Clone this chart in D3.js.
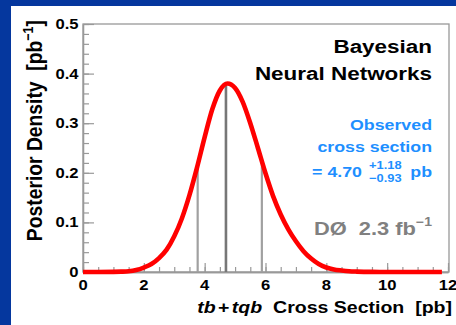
<!DOCTYPE html>
<html>
<head>
<meta charset="utf-8">
<script src="https://cdn.jsdelivr.net/npm/d3@7/dist/d3.min.js"></script>
<style>
  html, body { margin: 0; padding: 0; background: #05379e; }
  svg { display: block; }
  text { font-family: "Liberation Sans", Arial, Helvetica, sans-serif; font-weight: bold; }
</style>
</head>
<body>
<svg id="chart" width="456" height="325"></svg>
<script>
// Posterior density of the single top (tb + tqb) cross section
const crossSection = [0, 0.5, 1.0, 1.25, 1.5, 1.75, 2.0, 2.25, 2.5, 2.75, 3.0, 3.25, 3.5, 3.75,
  4.0, 4.25, 4.5, 4.75, 5.0, 5.25, 5.5, 5.75, 6.0, 6.25, 6.5, 6.75, 7.0, 7.25, 7.5, 7.75,
  8.0, 8.25, 8.5, 8.75, 9.0, 9.5, 10.0, 10.5, 11.0, 11.5, 11.8];
const posterior = [0, 0, 0.0003, 0.0007, 0.0015, 0.004, 0.009, 0.016, 0.028, 0.045, 0.072, 0.108, 0.155, 0.211,
  0.272, 0.328, 0.366, 0.380, 0.371, 0.343, 0.300, 0.250, 0.199, 0.153, 0.116, 0.086, 0.062, 0.042, 0.027, 0.016,
  0.009, 0.005, 0.003, 0.0015, 0.0008, 0.0002, 0.0001, 0, 0, 0, 0];

// Measured value and its asymmetric uncertainty
const measured = 4.70;
const errUp = 1.18;
const errDown = 0.93;

const xTickValues = [0, 2, 4, 6, 8, 10, 12];
const yTickValues = [0, 0.1, 0.2, 0.3, 0.4, 0.5];

const SX = 1.17; // horizontal text stretch

const svg = d3.select("#chart");
const W = 456, H = 325;

// white canvas
svg.append("rect").attr("x", 11).attr("y", 6).attr("width", W - 11).attr("height", H - 6).attr("fill", "#fff");

const plotL = 83, plotR = 448, plotT = 24, plotB = 272;
const x = d3.scaleLinear().domain([0, 12]).range([plotL, plotR]);
const y = d3.scaleLinear().domain([0, 0.5]).range([plotB, plotT]);

const axisColor = "#999";

// frame
svg.append("rect").attr("x", plotL).attr("y", plotT).attr("width", plotR + 1 - plotL).attr("height", plotB - plotT)
  .attr("fill", "none").attr("stroke", axisColor).attr("stroke-width", 1.3);

function styleAxis(g) {
  g.select(".domain").attr("stroke", axisColor).attr("stroke-width", 1.3);
  g.selectAll(".tick line").attr("stroke", axisColor).attr("stroke-width", 1.2);
  g.selectAll(".tick text").remove();
}

// y axis: major and minor ticks pointing inward
svg.append("g").attr("transform", `translate(${plotL},0)`)
  .call(d3.axisLeft(y).tickValues(d3.range(0, 0.5001, 0.02)).tickSize(-6).tickSizeOuter(0).tickFormat(""))
  .call(styleAxis);
svg.append("g").attr("transform", `translate(${plotL},0)`)
  .call(d3.axisLeft(y).tickValues(yTickValues).tickSize(-11).tickSizeOuter(0).tickFormat(""))
  .call(styleAxis);

// x axis
svg.append("g").attr("transform", `translate(0,${plotB})`)
  .call(d3.axisBottom(x).tickValues(d3.range(0, 12.001, 0.5)).tickSize(-5).tickSizeOuter(0).tickFormat(""))
  .call(styleAxis);
svg.append("g").attr("transform", `translate(0,${plotB})`)
  .call(d3.axisBottom(x).tickValues(xTickValues).tickSize(-9).tickSizeOuter(0).tickFormat(""))
  .call(styleAxis);

// helper for horizontally stretched text
function label(px, py, anchor, size, fill, rotate) {
  const g = svg.append("g")
    .attr("transform", `translate(${px},${py}) scale(${SX},1)` + (rotate ? ` rotate(${rotate})` : ""));
  return g.append("text").attr("text-anchor", anchor).attr("font-size", size).attr("fill", fill || "#000");
}

// tick labels
yTickValues.forEach(v => {
  label(78.5, y(v) + 5, "end", 14.2).text(v === 0 ? "0" : d3.format(".1f")(v));
});
xTickValues.forEach(v => {
  label(x(v), 290, "middle", 14.2).text(v);
});

// curve value at an arbitrary cross section (linear between table points)
function densityAt(v) {
  const i = d3.bisectRight(crossSection, v);
  if (i <= 0) return posterior[0];
  if (i >= crossSection.length) return posterior[posterior.length - 1];
  const x0 = crossSection[i - 1], x1 = crossSection[i];
  const t = (v - x0) / (x1 - x0);
  return posterior[i - 1] + t * (posterior[i] - posterior[i - 1]);
}

// vertical lines at the measurement and its interval edges
const markers = [
  { v: measured - errDown, color: "#a0a0a0", w: 2.2 },
  { v: measured + errUp, color: "#a0a0a0", w: 2.2 },
  { v: measured, color: "#777", w: 2.6 }
];
svg.append("g").selectAll("line").data(markers).join("line")
  .attr("x1", d => x(d.v)).attr("x2", d => x(d.v))
  .attr("y1", y(0)).attr("y2", d => y(densityAt(d.v)))
  .attr("stroke", d => d.color).attr("stroke-width", d => d.w);

// posterior curve
const line = d3.line()
  .x((d, i) => x(crossSection[i]))
  .y(d => y(d))
  .curve(d3.curveMonotoneX);
svg.append("path").datum(posterior)
  .attr("d", line)
  .attr("fill", "none").attr("stroke", "#ff0000").attr("stroke-width", 4.6)
  .attr("stroke-linejoin", "round");

// axis titles
const xt = label(452, 313, "end", 16.7);
xt.append("tspan").attr("font-style", "italic").text("tb");
xt.append("tspan").attr("dx", 2).text("+");
xt.append("tspan").attr("dx", 2).attr("font-style", "italic").text("tqb");
xt.append("tspan").text("\u00a0\u00a0Cross Section\u00a0\u00a0[pb]");

const yt = label(42, 20, "end", 19.3, "#000", -90);
yt.append("tspan").text("Posterior Density\u00a0\u00a0[pb");
yt.append("tspan").attr("font-size", 12.5).attr("dy", -8).text("\u22121");
yt.append("tspan").attr("dy", 8).text("]");

// method label
label(432, 53, "end", 19.2).text("Bayesian");
label(432, 80, "end", 19.2).text("Neural Networks");

// measured cross section
const blue = "#1e8fff";
label(432, 130, "end", 15.2, blue).text("Observed");
label(432, 152, "end", 15.2, blue).text("cross section");
label(362, 177, "end", 15.2, blue).text("= " + d3.format(".2f")(measured));
label(369, 169, "start", 11, blue).text("+" + d3.format(".2f")(errUp));
label(369, 182, "start", 11, blue).text("\u2212" + d3.format(".2f")(errDown));
label(432, 177, "end", 15.2, blue).text("pb");

// experiment and luminosity
const lum = label(432, 235, "end", 18.7, "#808080");
lum.append("tspan").text("D\u00d8\u00a0\u00a02.3 fb");
lum.append("tspan").attr("font-size", 12).attr("dy", -9).text("\u22121");
</script>
</body>
</html>
